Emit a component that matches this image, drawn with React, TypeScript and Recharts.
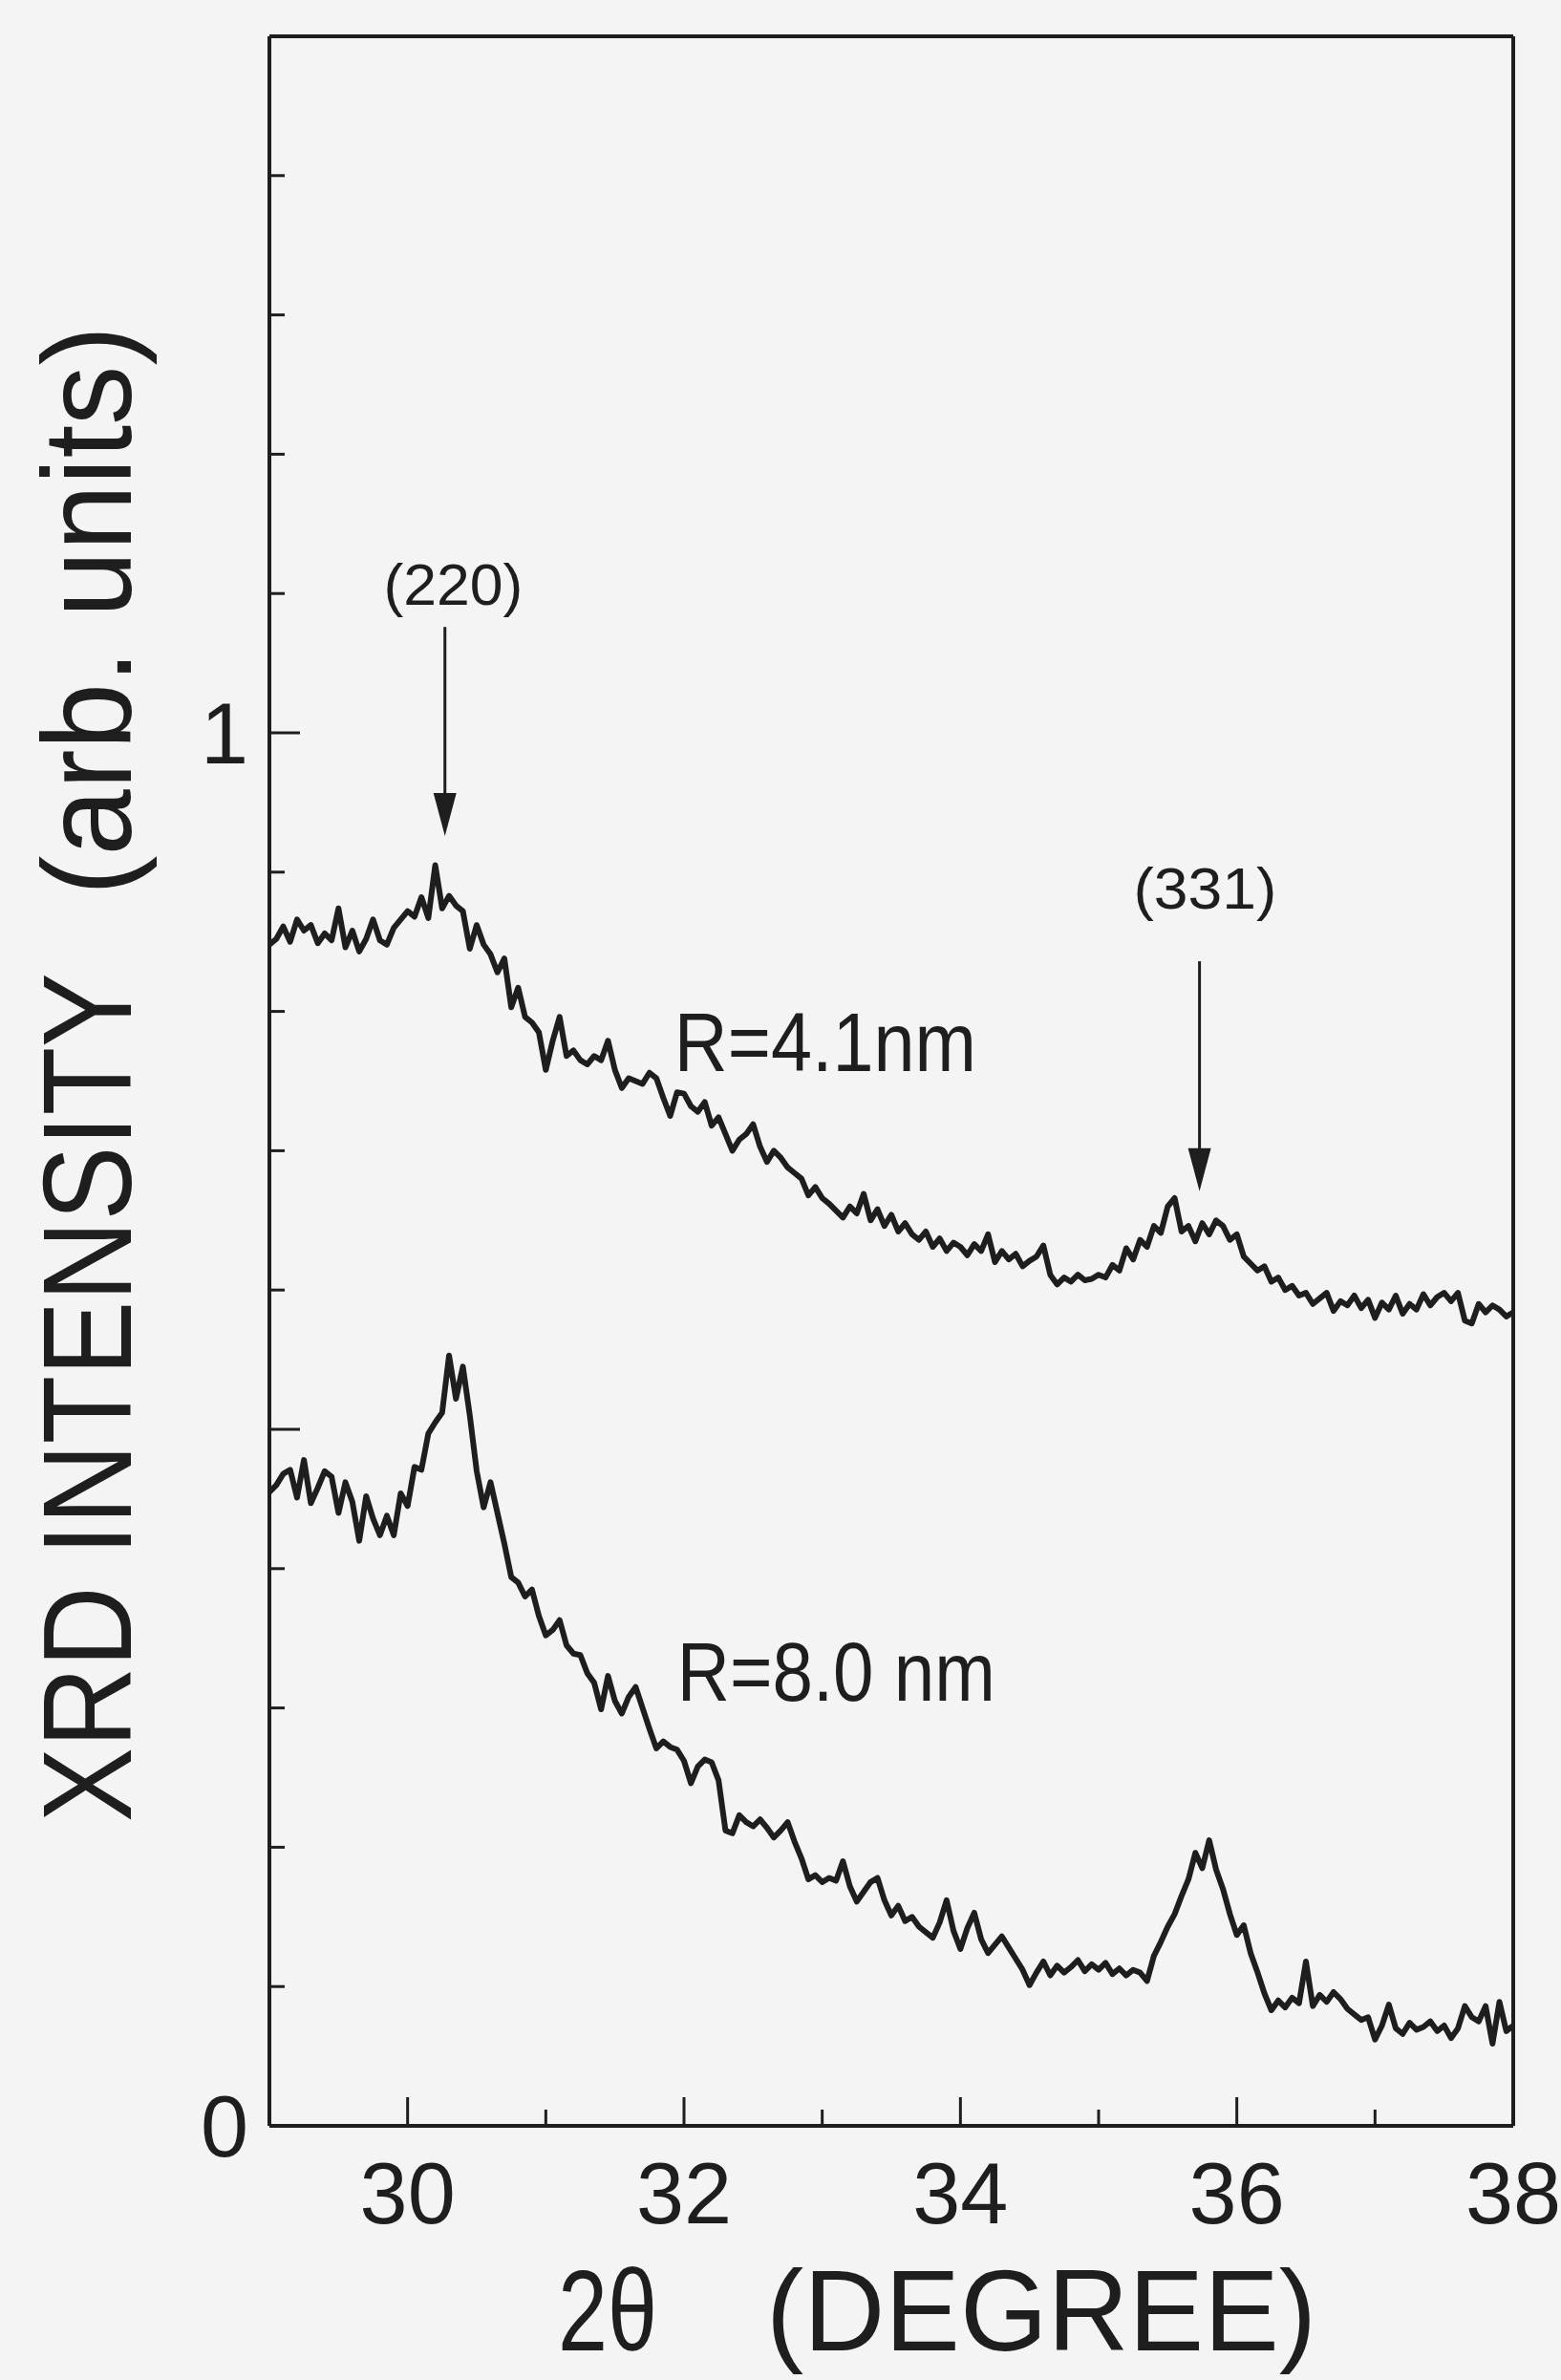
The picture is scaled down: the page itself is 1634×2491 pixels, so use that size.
import { LineChart, Line, XAxis, YAxis, ReferenceLine, ReferenceDot } from "recharts";

const INK = "#1e1e1e";
const PAPER = "#f4f4f4";
const FONT = "'Liberation Sans', Arial, Helvetica, sans-serif";

// 2θ sampling grid, 29° .. 38° in 0.05° steps
const twoTheta = Array.from({ length: 181 }, (_, i) => Math.round((29 + i * 0.05) * 100) / 100);

// R = 4.1 nm (upper trace)
const r41 = [
  0.848, 0.852, 0.861, 0.85, 0.866, 0.858, 0.862, 0.849, 0.856, 0.851, 0.874, 0.846, 0.858, 0.843, 0.852, 0.866, 0.851, 0.848, 0.86, 0.866,
  0.872, 0.868, 0.882, 0.867, 0.905, 0.874, 0.883, 0.876, 0.872, 0.845, 0.862, 0.848, 0.841, 0.828, 0.838, 0.803, 0.817, 0.796, 0.792, 0.785,
  0.758, 0.779, 0.796, 0.768, 0.772, 0.765, 0.762, 0.768, 0.765, 0.779, 0.758, 0.745, 0.752, 0.75, 0.748, 0.756, 0.752, 0.738, 0.725, 0.742,
  0.741, 0.732, 0.728, 0.735, 0.718, 0.724, 0.712, 0.7, 0.708, 0.712, 0.719, 0.703, 0.692, 0.7, 0.695, 0.688, 0.684, 0.68, 0.668, 0.674,
  0.666, 0.662, 0.657, 0.652, 0.66, 0.655, 0.669, 0.65, 0.658, 0.646, 0.654, 0.642, 0.648, 0.64, 0.636, 0.642, 0.631, 0.637, 0.628, 0.634,
  0.631, 0.625, 0.633, 0.628, 0.64, 0.62, 0.628, 0.622, 0.626, 0.617, 0.621, 0.624, 0.632, 0.611, 0.604, 0.609, 0.606, 0.611, 0.607, 0.608,
  0.611, 0.609, 0.618, 0.614, 0.63, 0.622, 0.636, 0.631, 0.646, 0.641, 0.66, 0.666, 0.642, 0.646, 0.635, 0.648, 0.64, 0.65, 0.646, 0.636,
  0.64, 0.624, 0.619, 0.614, 0.617, 0.606, 0.609, 0.6, 0.603, 0.596, 0.598, 0.59, 0.594, 0.598, 0.585, 0.592, 0.589, 0.596, 0.587, 0.593,
  0.58, 0.591, 0.586, 0.596, 0.583, 0.59, 0.586, 0.597, 0.589, 0.595, 0.598, 0.592, 0.598, 0.578, 0.576, 0.59, 0.584, 0.589, 0.586, 0.581,
  0.584,
];

// R = 8.0 nm (lower trace)
const r80 = [
  0.455, 0.46, 0.468, 0.471, 0.451, 0.478, 0.447, 0.458, 0.47, 0.466, 0.44, 0.462, 0.448, 0.42, 0.452, 0.436, 0.424, 0.438, 0.424, 0.454,
  0.445, 0.473, 0.471, 0.497, 0.505, 0.512, 0.553, 0.522, 0.545, 0.51, 0.47, 0.444, 0.462, 0.44, 0.418, 0.394, 0.39, 0.38, 0.385, 0.366,
  0.352, 0.356, 0.363, 0.345, 0.339, 0.338, 0.325, 0.318, 0.299, 0.323, 0.305, 0.296, 0.308, 0.315, 0.3, 0.285, 0.271, 0.276, 0.272, 0.27,
  0.262, 0.246, 0.258, 0.263, 0.261, 0.248, 0.212, 0.21, 0.223, 0.218, 0.215, 0.22, 0.214, 0.207, 0.212, 0.218, 0.204, 0.192, 0.177, 0.18,
  0.175, 0.178, 0.176, 0.19, 0.172, 0.161, 0.168, 0.175, 0.178, 0.162, 0.151, 0.158, 0.147, 0.15, 0.143, 0.139, 0.135, 0.146, 0.162, 0.14,
  0.127, 0.142, 0.153, 0.134, 0.124, 0.13, 0.136, 0.128, 0.12, 0.112, 0.101, 0.11, 0.118, 0.108, 0.115, 0.11, 0.114, 0.119, 0.111, 0.116,
  0.112, 0.117, 0.109, 0.113, 0.108, 0.112, 0.11, 0.104, 0.122, 0.132, 0.143, 0.152, 0.165, 0.177, 0.196, 0.185, 0.205, 0.184, 0.17, 0.152,
  0.137, 0.144, 0.124, 0.11, 0.095, 0.083, 0.09, 0.085, 0.092, 0.088, 0.118, 0.086, 0.094, 0.089, 0.096, 0.091, 0.084, 0.08, 0.076, 0.078,
  0.062, 0.072, 0.087, 0.07, 0.066, 0.074, 0.069, 0.071, 0.075, 0.068, 0.072, 0.063, 0.07, 0.086, 0.078, 0.075, 0.086, 0.059, 0.089, 0.068,
  0.072,
];

const xTicks = [30, 31, 32, 33, 34, 35, 36, 37, 38];
const xLabels = [30, 32, 34, 36, 38];
const yTicks = [0, 0.1, 0.2, 0.3, 0.4, 0.5, 0.6, 0.7, 0.8, 0.9, 1, 1.1, 1.2, 1.3, 1.4, 1.5];
const yLabels = [0, 1];

// peak markers: label position, arrow shaft top and arrow tip (data units)
const peaks = [
  { label: "(220)", textX: 30.33, textY: 1.092, width: 146, x: 30.27, top: 1.076, tip: 0.926 },
  { label: "(331)", textX: 35.77, textY: 0.874, width: 150, x: 35.73, top: 0.836, tip: 0.671 },
];

const curveLabels = [
  { text: "R=4.1nm", x: 31.93, y: 0.757, width: 316 },
  { text: "R=8.0 nm", x: 31.95, y: 0.305, width: 333 },
];

const data = twoTheta.map((angle, i) => ({ angle, r41: r41[i], r80: r80[i] }));

const XTick = (props: any) => {
  const { x, y, payload } = props;
  const v = payload.value;
  const major = v % 2 === 0;
  return (
    <g>
      <line x1={x} x2={x} y1={y} y2={y - (major ? 30 : 17)} stroke={INK} strokeWidth={3} />
      {xLabels.includes(v) && (
        <text x={x} y={y + 102} textAnchor="middle" fontSize={90} fontFamily={FONT} fill={INK}>
          {v}
        </text>
      )}
    </g>
  );
};

const YTick = (props: any) => {
  const { x, y, payload } = props;
  const v = payload.value;
  const major = Math.round(v * 10) % 5 === 0;
  return (
    <g>
      <line x1={x} x2={x + (major ? 32 : 16)} y1={y} y2={y} stroke={INK} strokeWidth={3} />
      {yLabels.includes(v) && (
        <text x={x - 22} y={y} dy="0.36em" textAnchor="end" fontSize={90} fontFamily={FONT} fill={INK}>
          {v}
        </text>
      )}
    </g>
  );
};

const W = 1634;
const H = 2491;

export default function App() {
  return (
    <div style={{ position: "absolute", left: 0, top: 0, width: W, height: H, background: PAPER }}>
      <LineChart width={W} height={H} data={data} margin={{ top: 37, right: 49, left: 0, bottom: 0 }}>
        <XAxis
          dataKey="angle"
          type="number"
          domain={[29, 38]}
          ticks={xTicks}
          interval={0}
          tick={<XTick />}
          tickLine={false}
          tickSize={0}
          tickMargin={0}
          height={266}
          axisLine={{ stroke: INK, strokeWidth: 4 }}
        />
        <XAxis
          xAxisId="top"
          orientation="top"
          type="number"
          domain={[29, 38]}
          tick={false}
          tickLine={false}
          height={1}
          axisLine={{ stroke: INK, strokeWidth: 4 }}
        />
        <YAxis
          type="number"
          domain={[0, 1.5]}
          ticks={yTicks}
          interval={0}
          tick={<YTick />}
          tickLine={false}
          tickSize={0}
          tickMargin={0}
          width={282}
          axisLine={{ stroke: INK, strokeWidth: 4 }}
        />
        <YAxis
          yAxisId="right"
          orientation="right"
          type="number"
          domain={[0, 1.5]}
          tick={false}
          tickLine={false}
          width={1}
          axisLine={{ stroke: INK, strokeWidth: 4 }}
        />
        <Line dataKey="r41" type="linear" stroke={INK} strokeWidth={6} strokeLinejoin="round" dot={false} isAnimationActive={false} />
        <Line dataKey="r80" type="linear" stroke={INK} strokeWidth={6} strokeLinejoin="round" dot={false} isAnimationActive={false} />
        {peaks.map((p) => (
          <ReferenceLine
            key={p.label + "shaft"}
            segment={[{ x: p.x, y: p.top }, { x: p.x, y: p.tip + 0.02 }]}
            stroke={INK}
            strokeWidth={3}
          />
        ))}
        {peaks.map((p) => (
          <ReferenceDot
            key={p.label + "head"}
            x={p.x}
            y={p.tip}
            r={1}
            shape={(s: any) => (
              <polygon points={`${s.cx - 12},${s.cy - 45} ${s.cx + 12},${s.cy - 45} ${s.cx},${s.cy}`} fill={INK} />
            )}
          />
        ))}
        {peaks.map((p) => (
          <ReferenceDot
            key={p.label + "text"}
            x={p.textX}
            y={p.textY}
            r={1}
            shape={(s: any) => (
              <text
                x={s.cx}
                y={s.cy}
                textAnchor="middle"
                fontSize={62}
                fontFamily={FONT}
                fill={INK}
                textLength={p.width}
                lengthAdjust="spacingAndGlyphs"
              >
                {p.label}
              </text>
            )}
          />
        ))}
        {curveLabels.map((c) => (
          <ReferenceDot
            key={c.text}
            x={c.x}
            y={c.y}
            r={1}
            shape={(s: any) => (
              <text
                x={s.cx}
                y={s.cy}
                fontSize={88}
                fontFamily={FONT}
                fill={INK}
                textLength={c.width}
                lengthAdjust="spacingAndGlyphs"
              >
                {c.text}
              </text>
            )}
          />
        ))}
      </LineChart>
      <svg width={W} height={H} style={{ position: "absolute", left: 0, top: 0, pointerEvents: "none" }}>
        <g fontFamily={FONT} fontSize={131} fill={INK}>
          <text transform="translate(137,1907) rotate(-90)" textLength={889} lengthAdjust="spacingAndGlyphs">
            XRD INTENSITY
          </text>
          <text transform="translate(137,937) rotate(-90)" textLength={596} lengthAdjust="spacingAndGlyphs">
            (arb. units)
          </text>
        </g>
        <g fontFamily={FONT} fontSize={120} fill={INK}>
          <text x={584} y={2460} textLength={104} lengthAdjust="spacingAndGlyphs">
            2θ
          </text>
          <text x={802} y={2460} textLength={576} lengthAdjust="spacingAndGlyphs">
            (DEGREE)
          </text>
        </g>
      </svg>
    </div>
  );
}
